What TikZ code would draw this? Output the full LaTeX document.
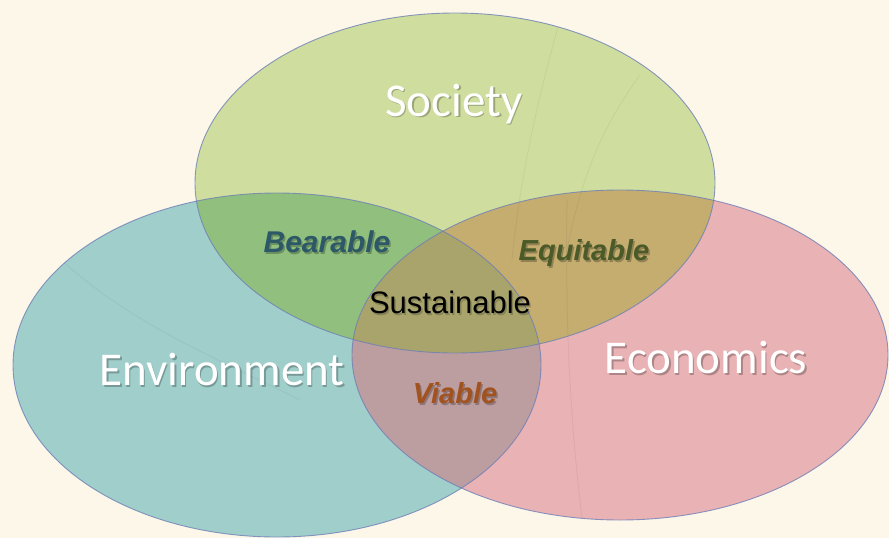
\documentclass[tikz,border=0pt]{standalone}
\usepackage{fontspec}
\setmainfont{Liberation Sans}
\newfontfamily\calib{Carlito}
\definecolor{bg}{HTML}{FDF7EA}
\definecolor{socC}{HTML}{CFDE9F}
\definecolor{envC}{HTML}{A0CECB}
\definecolor{ecoC}{HTML}{E9B2B4}
\definecolor{bearC}{HTML}{90BF7E}
\definecolor{equiC}{HTML}{C4AD6F}
\definecolor{viaC}{HTML}{BC9EA1}
\definecolor{cenC}{HTML}{A8A46C}
\definecolor{rimC}{HTML}{6E7FB6}
\definecolor{bearT}{HTML}{2C5868}
\definecolor{equiT}{HTML}{4A5A28}
\definecolor{viaT}{HTML}{A2521E}
\begin{document}
\begin{tikzpicture}[x=1pt,y=-1pt,
  rim/.style={draw=rimC,line width=0.9pt,draw opacity=0.8},
  faint/.style={draw=black,line width=0.8pt,draw opacity=0.05},
  bigT/.style={font=\calib\fontsize{47}{50}\selectfont,text=white,inner sep=0pt},
  bigS/.style={font=\calib\fontsize{47}{50}\selectfont,text=black,text opacity=0.25,inner sep=0pt},
  smallT/.style={font=\bfseries\itshape\fontsize{29}{32}\selectfont,inner sep=0pt},
  smallS/.style={font=\bfseries\itshape\fontsize{29}{32}\selectfont,text=black,text opacity=0.25,inner sep=0pt},
  susT/.style={font=\fontsize{31}{34}\selectfont,inner sep=0pt}]
\useasboundingbox (0,0) rectangle (889,538);
\fill[bg] (0,0) rectangle (889,538);
% base fills
\fill[envC] (277,365) ellipse [x radius=264pt, y radius=172pt];
\fill[ecoC] (620,355) ellipse [x radius=268pt, y radius=165pt];
\fill[socC] (455,183) ellipse [x radius=260pt, y radius=170pt];
% pairwise overlaps
\begin{scope}
  \clip (455,183) ellipse [x radius=260pt, y radius=170pt];
  \fill[bearC] (277,365) ellipse [x radius=264pt, y radius=172pt];
  \fill[equiC] (620,355) ellipse [x radius=268pt, y radius=165pt];
\end{scope}
\begin{scope}
  \clip (277,365) ellipse [x radius=264pt, y radius=172pt];
  \fill[viaC] (620,355) ellipse [x radius=268pt, y radius=165pt];
\end{scope}
\begin{scope}
  \clip (455,183) ellipse [x radius=260pt, y radius=170pt];
  \clip (277,365) ellipse [x radius=264pt, y radius=172pt];
  \fill[cenC] (620,355) ellipse [x radius=268pt, y radius=165pt];
\end{scope}
% faint reflections
\begin{scope}
  \clip (277,365) ellipse [x radius=264pt, y radius=172pt];
  \draw[faint] (40,240) .. controls (120,320) and (200,350) .. (300,400);
\end{scope}
\draw[faint] (558,27) .. controls (535,110) and (520,180) .. (512,260);
\draw[faint] (640,75) .. controls (600,130) and (580,180) .. (565,260);
\draw[faint] (567,200) .. controls (565,320) and (570,420) .. (582,518);
% outlines
\draw[rim] (277,365) ellipse [x radius=264pt, y radius=172pt];
\draw[rim] (620,355) ellipse [x radius=268pt, y radius=165pt];
\draw[rim] (455,183) ellipse [x radius=260pt, y radius=170pt];
% big labels
\node[bigS] (socS) at (455.5,105.5) {Society};
\node[bigT] (soc) at (454,104) {Society};
\node[bigS] (envS) at (223.5,371.5) {Environment};
\node[bigT] (env) at (222,370) {Environment};
\node[bigS] (ecoS) at (707.5,359.5) {Economics};
\node[bigT] (eco) at (706,358) {Economics};
% overlap labels
\node[smallS,font=\bfseries\itshape\fontsize{30}{32}\selectfont] (bearS) at (328.5,244) {Bearable};
\node[smallT,text=bearT,font=\bfseries\itshape\fontsize{30}{32}\selectfont] (bear) at (327,242) {Bearable};
\node[smallS] (equiS) at (585.5,255) {Equitable};
\node[smallT,text=equiT] (equi) at (584,253) {Equitable};
\node[smallS] (viaS) at (456.5,395) {Viable};
\node[smallT,text=viaT] (via) at (455,393) {Viable};
\node[susT,text=black,text opacity=0.2] (susS) at (451.5,304) {Sustainable};
\node[susT,text=black] (sus) at (450,302) {Sustainable};
\end{tikzpicture}
\end{document}
